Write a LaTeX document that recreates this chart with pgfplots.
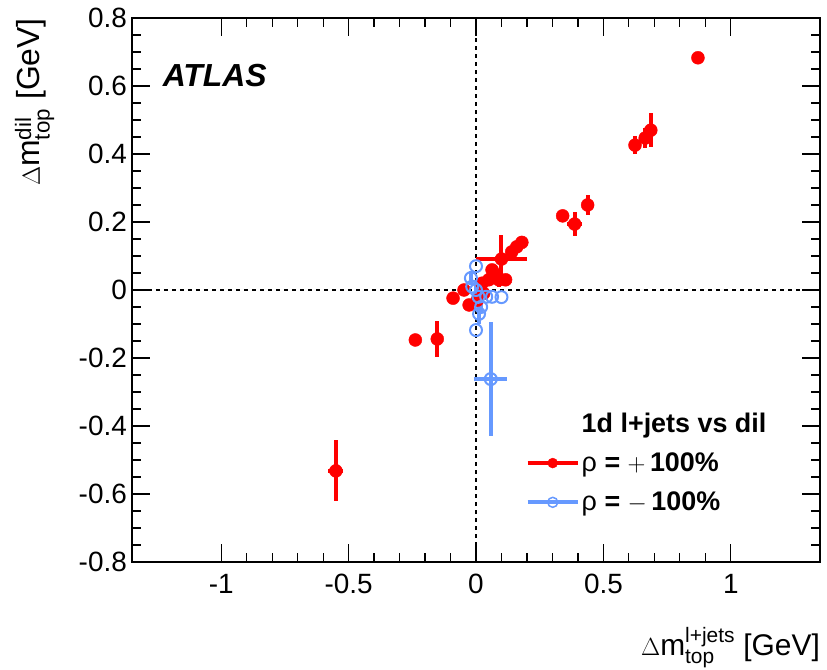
\documentclass[border=0pt]{standalone}
\usepackage{fontspec}
\setmainfont{Liberation Sans}
\usepackage{amsmath}
\usepackage{pgfplots}
\pgfplotsset{compat=1.18}
\usepackage{pgfplotstable}

\definecolor{atlred}{RGB}{255,0,0}
\definecolor{atlblue}{RGB}{102,153,255}

% legend symbols: thick line with the marker in the middle
\pgfplotsset{
  redleg/.style={legend image code/.code={
    \draw[line width=4bp, atlred] (0bp,0bp) -- (50bp,0bp);
    \draw[##1, mark size=5bp] plot coordinates {(25bp,0bp)};}},
  blueleg/.style={legend image code/.code={
    \draw[line width=4bp, atlblue] (0bp,0bp) -- (50bp,0bp);
    \draw[##1, mark size=5bp, mark options={fill=white, draw=atlblue, line width=1.5bp}] plot coordinates {(25bp,0bp)};}},
}

% rho = +100%
\pgfplotstableread{
x      y      ex     ey
0.871  0.683  0      0.015
0.624  0.426  0      0.026
0.664  0.447  0      0.030
0.686  0.470  0      0.050
0.340  0.218  0      0
0.387  0.194  0.030  0.035
0.438  0.250  0      0.030
0.180  0.140  0      0
0.160  0.127  0      0
0.140  0.112  0      0
0.100  0.091  0.100  0.070
0.116  0.030  0      0
0.090  0.030  0      0.020
0.078  0.045  0      0
0.063  0.059  0      0
0.050  0.030  0      0
0.024  0.020  0      0
0.030  -0.010 0      0
0.005  -0.030 0      0
-0.027 -0.044 0      0
-0.047 0.000  0      0
-0.090 -0.024 0      0
-0.152 -0.144 0      0.053
-0.238 -0.147 0      0
-0.550 -0.532 0.030  0.090
}\redpts

% rho = -100%
\pgfplotstableread{
x      y      ex     ey
0.000  0.070  0      0
-0.020 0.035  0      0.020
-0.015 0.010  0      0
0.000  0.000  0      0.015
0.010  -0.020 0      0
0.040  -0.020 0      0
0.063  -0.020 0      0
0.100  -0.021 0      0
0.020  -0.050 0      0.015
0.012  -0.070 0      0.030
0.000  -0.118 0      0
0.058  -0.262 0.065  0.167
}\bluepts

\begin{document}
\begin{tikzpicture}
\path[use as bounding box] (-132bp,-108bp) rectangle (695bp,562bp);
\begin{axis}[
  width=688bp, height=544bp, scale only axis,
  xmin=-1.35, xmax=1.35, ymin=-0.8, ymax=0.8,
  xtick={-1,-0.5,0,0.5,1},
  xticklabels={-1,-0.5,0,0.5,1},
  ytick={-0.8,-0.6,-0.4,-0.2,0,0.2,0.4,0.6,0.8},
  yticklabels={-0.8,-0.6,-0.4,-0.2,0,0.2,0.4,0.6,0.8},
  minor x tick num=4, minor y tick num=3,
  major tick length=18bp, minor tick length=9bp,
  tick style={black, line width=1.2bp},
  axis line style={line width=1.5bp},
  tick label style={font=\fontsize{28}{34}\selectfont},
  xticklabel style={inner sep=0pt, yshift=-12bp},
  yticklabel style={inner sep=0pt, xshift=-5bp},
  xlabel={$\Delta$m$^{\text{l+jets}}_{\text{top}}$ [GeV]},
  xlabel style={at={(rel axis cs:1,0)}, anchor=base east, yshift=-93bp, inner sep=0pt, font=\fontsize{30}{34}\selectfont},
  ylabel={$\Delta$m$^{\text{dil}}_{\text{top}}$ [GeV]},
  ylabel style={at={(rel axis cs:0,1)}, anchor=base east, yshift=92bp, inner sep=0pt, font=\fontsize{32}{36}\selectfont},
  legend style={at={(rel axis cs:0.572,0.278)}, anchor=north west, draw=none, fill=none,
    font=\fontsize{27}{30}\selectfont, row sep=15bp, inner sep=0pt,
    /tikz/every even column/.append style={column sep=16bp}},
  legend cell align=left,
  clip=false,
]
\addplot[black, line width=1.2bp, dash pattern=on 4bp off 4bp, forget plot] coordinates {(0,-0.8) (0,0.8)};
\addplot[black, line width=1.2bp, dash pattern=on 4bp off 4bp, forget plot] coordinates {(-1.35,0) (1.35,0)};

\addlegendimage{empty legend}
\addlegendentry{\textbf{1d l+jets vs dil}}

\addplot[only marks, mark=*, mark size=6.5bp, color=atlred, mark options={fill=atlred, draw=atlred}, redleg,
  error bars/.cd, x dir=both, x explicit, y dir=both, y explicit, error mark=none,
  error bar style={line width=4bp, atlred}]
  table[x=x, y=y, x error=ex, y error=ey] {\redpts};
\addlegendentry{ρ \textbf{=} $+$\,\textbf{100\%}}

\addplot[only marks, mark=o, mark size=6bp, color=atlblue, mark options={draw=atlblue, line width=2bp}, blueleg,
  error bars/.cd, x dir=both, x explicit, y dir=both, y explicit, error mark=none,
  error bar style={line width=4bp, atlblue}]
  table[x=x, y=y, x error=ex, y error=ey] {\bluepts};
\addlegendentry{ρ \textbf{=} $-$\,\textbf{100\%}}

\node[anchor=west, inner sep=0pt, font=\fontsize{32}{36}\selectfont\bfseries\itshape] at (axis cs:-1.23,0.632) {ATLAS};
\end{axis}
\end{tikzpicture}
\end{document}
